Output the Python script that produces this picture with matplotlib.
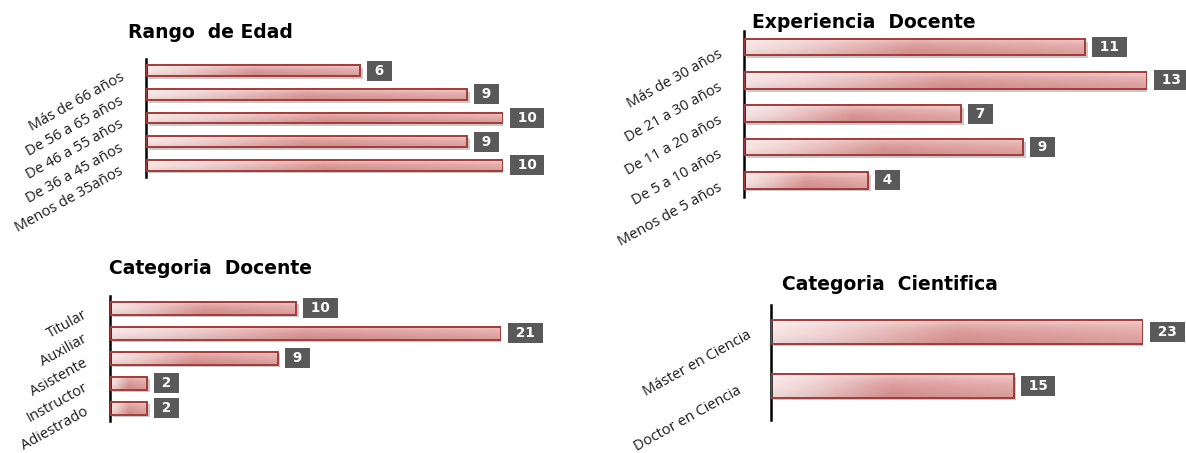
import numpy as np
import matplotlib
matplotlib.use("Agg")
import matplotlib.pyplot as plt
import matplotlib.patheffects as pe
from matplotlib.colors import to_rgb

# Datos (de arriba hacia abajo)
edad_cat = ["Más de 66 años", "De 56 a 65 años", "De 46 a 55 años",
            "De 36 a 45 años", "Menos de 35años"]
edad_val = [6, 9, 10, 9, 10]

exp_cat = ["Más de 30 años", "De 21 a 30 años", "De 11 a 20 años",
           "De 5 a 10 años", "Menos de 5 años"]
exp_val = [11, 13, 7, 9, 4]

catdoc_cat = ["Titular", "Auxiliar", "Asistente", "Instructor", "Adiestrado"]
catdoc_val = [10, 21, 9, 2, 2]

catcien_cat = ["Máster en Ciencia", "Doctor en Ciencia"]
catcien_val = [23, 15]

W, H = 1186, 453
fig = plt.figure(figsize=(W / 100, H / 100), dpi=100)


def gradiente():
    # degradado horizontal rosa claro -> rosa oscuro, con brillo arriba
    stops = [(0.0, "#f6e3e2"), (0.15, "#efd1d0"), (0.5, "#d99694"), (1.0, "#e2a8a6")]
    xs = np.linspace(0, 1, 200)
    pos = [s[0] for s in stops]
    rgbs = np.array([to_rgb(s[1]) for s in stops])
    cols = np.stack([np.interp(xs, pos, rgbs[:, c]) for c in range(3)], axis=1)
    ys = np.linspace(0, 1, 20)
    luz = np.interp(ys, [0, 0.3, 0.6, 1], [0.45, 0.15, 0.0, -0.06])
    img = np.zeros((20, 200, 3))
    for r in range(20):
        if luz[r] >= 0:
            img[r] = cols + (1 - cols) * luz[r]
        else:
            img[r] = cols * (1 + luz[r])
    return np.clip(img, 0, 1)


GRAD = gradiente()


def panel(px_left, px_right, px_top, px_bottom, xmax, ylim, cats, vals,
          alto, titulo, tit_xy, lab_dy, lab_gap):
    ax = fig.add_axes([px_left / W, 1 - px_bottom / H,
                       (px_right - px_left) / W, (px_bottom - px_top) / H])
    n = len(cats)
    ys = np.arange(n)[::-1]
    # sombra
    ax.barh(ys, vals, height=alto, color="white", zorder=1,
            path_effects=[pe.SimplePatchShadow(offset=(2, -2), shadow_rgbFace="#888888", alpha=0.45),
                          pe.Normal()])
    borde = ax.barh(ys, vals, height=alto, color="none", edgecolor="#a53a3a",
                    linewidth=1.4, zorder=3)
    for rect in borde:
        x0, y0 = rect.get_x(), rect.get_y()
        im = ax.imshow(GRAD, extent=[x0, x0 + rect.get_width(), y0, y0 + rect.get_height()],
                       aspect="auto", zorder=2, interpolation="bilinear")
        im.set_clip_path(rect)
    for y, v in zip(ys, vals):
        ax.annotate(f" {v} ", (v, y), xytext=(10, 0), textcoords="offset pixels",
                    ha="left", va="center", color="white", fontsize=9.8,
                    fontweight="bold", family="DejaVu Sans",
                    bbox=dict(boxstyle="square,pad=0.22", fc="#595959", ec="none"),
                    annotation_clip=False)
    for k, (y, c) in enumerate(zip(ys, cats)):
        f = k / max(n - 1, 1)
        dy = lab_dy[0] + (lab_dy[1] - lab_dy[0]) * f
        gap = lab_gap[0] + (lab_gap[1] - lab_gap[0]) * f
        ax.annotate(c, (0, y), xytext=(-gap, -dy), textcoords="offset pixels",
                    ha="right", va="center", rotation=29, rotation_mode="anchor",
                    fontsize=10.5, family="Open Sans", color="#1a1a1a",
                    annotation_clip=False)
    ax.set_xlim(0, xmax)
    ax.set_ylim(*ylim)
    for s in ["top", "right", "bottom"]:
        ax.spines[s].set_visible(False)
    ax.spines["left"].set_linewidth(1.8)
    ax.spines["left"].set_color("black")
    ax.set_xticks([])
    ax.set_yticks([])
    ax.patch.set_alpha(0)
    fig.text(tit_xy[0] / W, 1 - tit_xy[1] / H, titulo, ha="left", va="center",
             fontsize=13.5, fontweight="bold", family="DejaVu Sans", color="black")
    return ax


panel(146, 503, 59, 177, 10, (-0.5, 4.5), edad_cat, edad_val, 0.46,
      "Rango  de Edad", (128, 33), (6, 5), (23, 24))
panel(744, 1147, 30.5, 197, 13, (-0.5, 4.5), exp_cat, exp_val, 0.5,
      "Experiencia  Docente", (752, 22), (6, 6), (23, 23))
panel(110, 501, 295.5, 420.5, 21, (-0.5, 4.5), catdoc_cat, catdoc_val, 0.52,
      "Categoria  Docente", (109, 268), (6, 3), (24, 23))
panel(771, 1143, 305, 420, 23, (-0.63, 1.5), catcien_cat, catcien_val, 0.43,
      "Categoria  Cientifica", (782, 285), (2, 4), (21, 31))

fig.savefig("out.png", dpi=100)
